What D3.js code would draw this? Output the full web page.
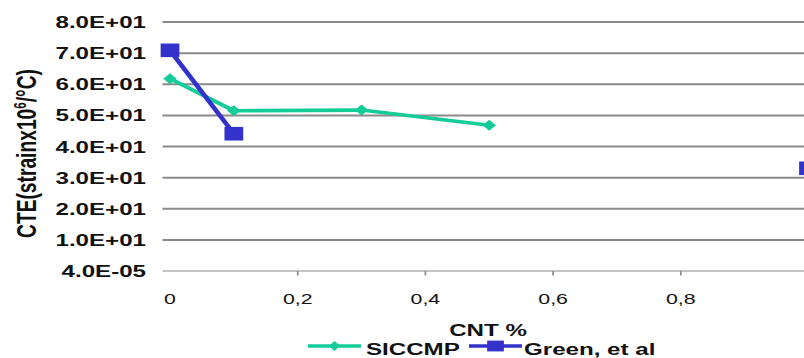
<!DOCTYPE html>
<html><head><meta charset="utf-8">
<script src="https://cdn.jsdelivr.net/npm/d3@7"></script>
<style>html,body{margin:0;padding:0;background:#fff;}svg{display:block;}</style>
</head><body>
<script>
// ---- data ----
const cntPct = [0, 0.1, 0.3, 0.5, 1];
const siccmp = [61.8, 51.5, 51.7, 46.8, null];
const green  = [70.9, 44.1, null, null, 33.0];
const seriesNames = ["SICCMP", "Green, et al"];
const xTickValues = [0, 0.2, 0.4, 0.6, 0.8, 1];
const xTickLabels = ["0", "0,2", "0,4", "0,6", "0,8"];
const yTickValues = [0, 10, 20, 30, 40, 50, 60, 70, 80];
const yTickLabels = ["4.0E-05", "1.0E+01", "2.0E+01", "3.0E+01", "4.0E+01", "5.0E+01", "6.0E+01", "7.0E+01", "8.0E+01"];
const xTitle = "CNT %";

// ---- layout ----
const W = 804, H = 358, S = 1.42; // horizontal stretch of the original
const colors = ["#14cc9a", "#3333cc"];
const f = "'Liberation Sans', Arial, sans-serif";

const svg = d3.select("body").append("svg").attr("width", W).attr("height", H);
const g = svg.append("g").attr("transform", `scale(${S},1)`);
const X = p => p / S;

const x = d3.scaleLinear().domain([0, 1]).range([X(170), X(808.5)]);
const y = d3.scaleLinear().domain([0, 80]).range([271, 22]);

// gridlines
g.append("g").selectAll("line").data(yTickValues.filter(v => v > 0)).join("line")
  .attr("x1", X(162.5)).attr("x2", X(810)).attr("y1", d => y(d)).attr("y2", d => y(d))
  .attr("stroke", "#8a8a8a").attr("stroke-width", 2);
// x axis line
g.append("line").attr("x1", X(162.5)).attr("x2", X(810)).attr("y1", y(0)).attr("y2", y(0))
  .attr("stroke", "#8a8a8a").attr("stroke-width", 1.2);
// x ticks
g.append("g").selectAll("line").data(xTickValues.filter(v => v > 0)).join("line")
  .attr("x1", d => x(d)).attr("x2", d => x(d)).attr("y1", y(0)).attr("y2", y(0) + 4.5)
  .attr("stroke", "#8a8a8a").attr("stroke-width", 1.2);
g.append("g").selectAll("text").data(xTickValues.slice(0, xTickLabels.length)).join("text")
  .attr("x", d => x(d)).attr("y", 304).attr("text-anchor", "middle")
  .attr("font-family", f).attr("font-size", 15).attr("fill", "#111")
  .text((d, i) => xTickLabels[i]);
// y tick labels
g.append("g").selectAll("text").data(yTickValues).join("text")
  .attr("x", X(146)).attr("y", d => y(d)).attr("dy", "0.36em").attr("text-anchor", "end")
  .attr("font-family", f).attr("font-size", 17).attr("font-weight", "bold").attr("fill", "#111")
  .text((d, i) => yTickLabels[i]);

// y title
const yt = g.append("text").attr("transform", `translate(${X(36)},153.5) rotate(-90)`)
  .attr("text-anchor", "middle").attr("font-family", f).attr("font-size", 20).attr("font-weight", "bold")
  .attr("fill", "#111").attr("textLength", 169).attr("lengthAdjust", "spacingAndGlyphs");
yt.append("tspan").text("CTE(strainx10");
yt.append("tspan").attr("font-size", 12).attr("dy", -7).text("6");
yt.append("tspan").attr("dy", 7).text("/°C)");

// x title
g.append("text").attr("x", X(488)).attr("y", 336.5).attr("text-anchor", "middle")
  .attr("font-family", f).attr("font-size", 17).attr("font-weight", "bold").attr("fill", "#111").text(xTitle);

// series
const all = [siccmp, green];
const line = d3.line().defined(d => d[1] != null).x(d => x(d[0])).y(d => y(d[1]));
const diamond = (cx, cy, w, h) => `M${cx},${cy - h / 2}L${cx + w / 2},${cy}L${cx},${cy + h / 2}L${cx - w / 2},${cy}Z`;

all.forEach((vals, si) => {
  const pts = cntPct.map((c, i) => [c, vals[i]]);
  g.append("path").datum(pts).attr("d", line).attr("fill", "none")
    .attr("stroke", colors[si]).attr("stroke-width", 3.6).attr("stroke-linejoin", "round");
  const valid = pts.filter(d => d[1] != null);
  if (si === 0) {
    g.append("g").selectAll("path").data(valid).join("path")
      .attr("d", d => diamond(x(d[0]), y(d[1]), 9.5, 11)).attr("fill", colors[si]);
  } else {
    g.append("g").selectAll("rect").data(valid).join("rect")
      .attr("x", d => x(d[0]) - 6.6).attr("y", d => y(d[1]) - 6.8)
      .attr("width", 13.2).attr("height", 13.6).attr("fill", colors[si]);
  }
});

// legend
const legY = 346;
const legItems = [
  {x1: 308, x2: 361, tx: 366},
  {x1: 469, x2: 522, tx: 524}
];
legItems.forEach((it, i) => {
  g.append("line").attr("x1", X(it.x1)).attr("x2", X(it.x2)).attr("y1", legY).attr("y2", legY)
    .attr("stroke", colors[i]).attr("stroke-width", 3.6);
  const cx = X((it.x1 + it.x2) / 2);
  if (i === 0) g.append("path").attr("d", diamond(cx, legY, 8, 10)).attr("fill", colors[i]);
  else g.append("rect").attr("x", cx - 5.9).attr("y", legY - 5.4).attr("width", 11.8).attr("height", 10.8).attr("fill", colors[i]);
  g.append("text").attr("x", X(it.tx)).attr("y", 355.5).attr("font-family", f).attr("font-size", 17)
    .attr("font-weight", "bold").attr("fill", "#111").text(seriesNames[i]);
});
</script>
</body></html>
